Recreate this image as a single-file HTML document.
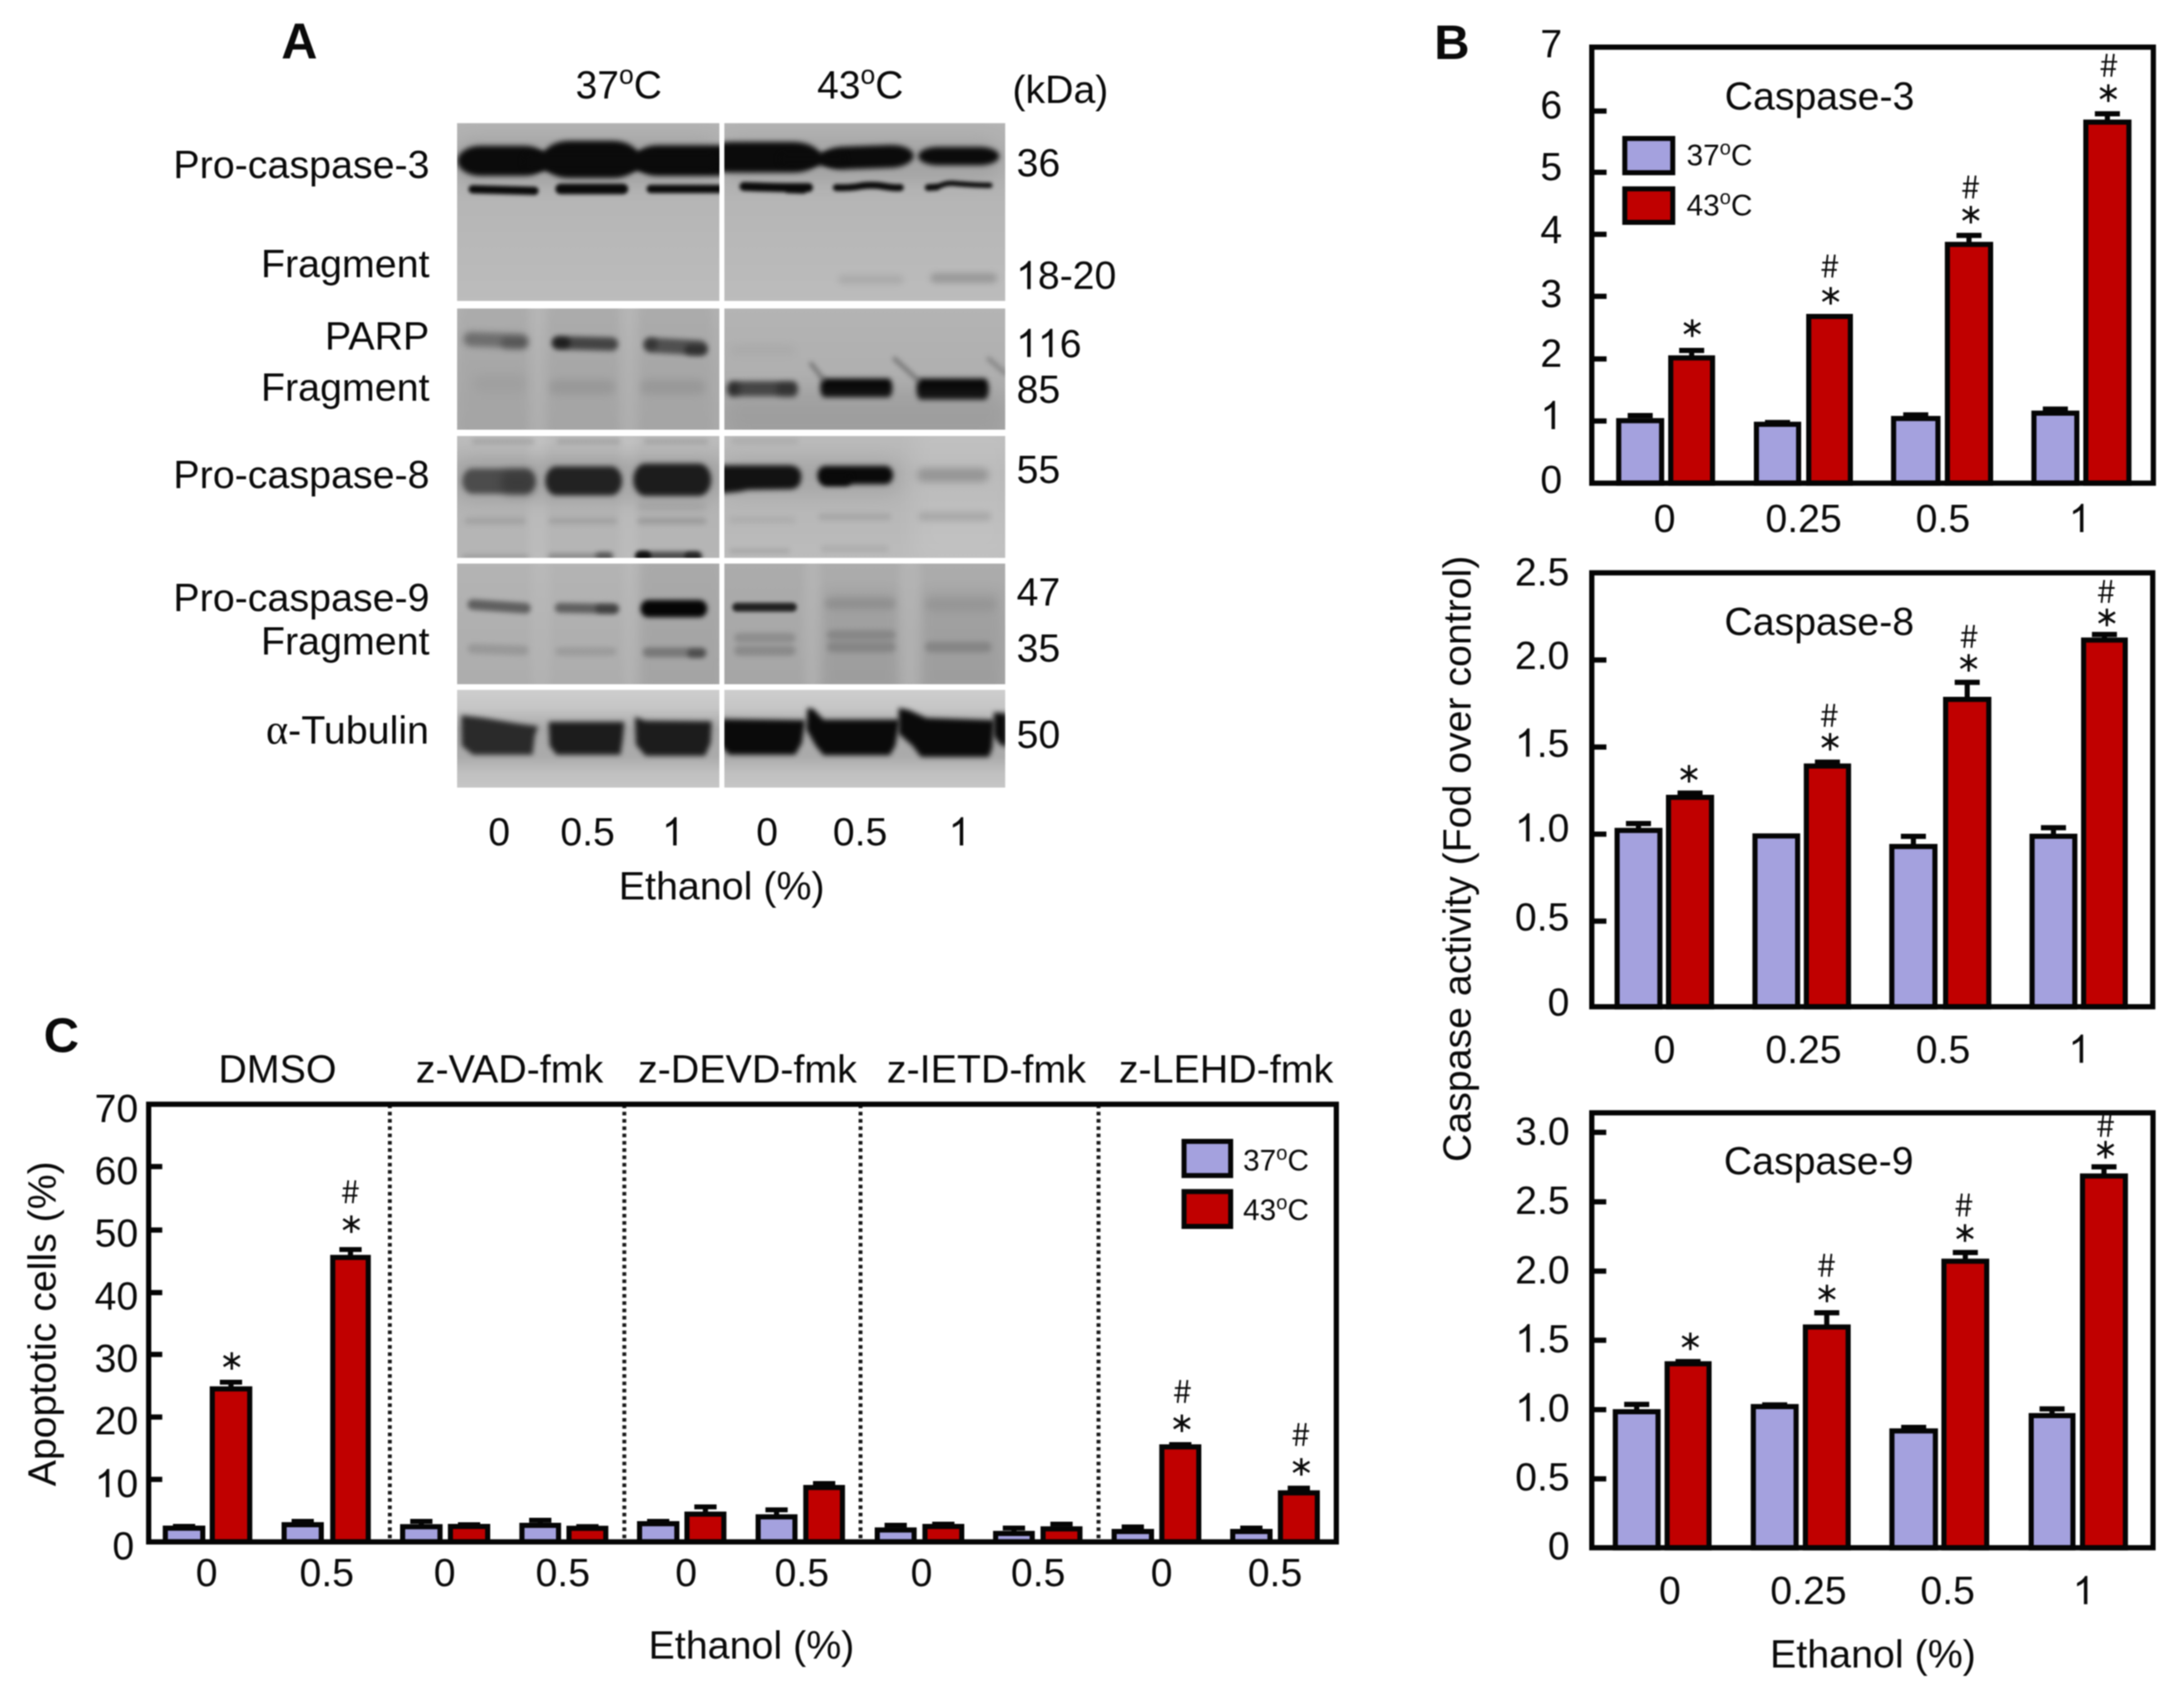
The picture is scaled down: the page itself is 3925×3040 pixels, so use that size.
<!DOCTYPE html>
<html><head><meta charset="utf-8"><title>Figure</title>
<style>html,body{margin:0;padding:0;background:#fff}svg{display:block;filter:blur(0.9px)}text{font-family:"Liberation Sans",sans-serif}</style>
</head><body>
<svg width="3925" height="3040" viewBox="0 0 3925 3040">
<rect width="3925" height="3040" fill="#fff"/>
<text x="505.5" y="104.8" font-size="90" text-anchor="start" font-weight="bold" font-family="Liberation Sans" fill="#0a0a0a" >A</text>
<text x="1112" y="177" font-size="70" text-anchor="middle" font-weight="normal" font-family="Liberation Sans" fill="#0a0a0a" >37<tspan font-size="47.6" dy="-25.6">o</tspan><tspan dy="25.6">C</tspan></text>
<text x="1546" y="177" font-size="70" text-anchor="middle" font-weight="normal" font-family="Liberation Sans" fill="#0a0a0a" >43<tspan font-size="47.6" dy="-25.6">o</tspan><tspan dy="25.6">C</tspan></text>
<text x="1819.5" y="185.3" font-size="70.5" text-anchor="start" font-weight="normal" font-family="Liberation Sans" fill="#0a0a0a" >(kDa)</text>
<text x="772" y="320.3" font-size="70.8" text-anchor="end" font-weight="normal" font-family="Liberation Sans" fill="#0a0a0a" >Pro-caspase-3</text>
<text x="772" y="497.6" font-size="70.8" text-anchor="end" font-weight="normal" font-family="Liberation Sans" fill="#0a0a0a" >Fragment</text>
<text x="771.5" y="627.5" font-size="70.8" text-anchor="end" font-weight="normal" font-family="Liberation Sans" fill="#0a0a0a" >PARP</text>
<text x="772" y="720" font-size="70.8" text-anchor="end" font-weight="normal" font-family="Liberation Sans" fill="#0a0a0a" >Fragment</text>
<text x="772" y="877.2" font-size="70.8" text-anchor="end" font-weight="normal" font-family="Liberation Sans" fill="#0a0a0a" >Pro-caspase-8</text>
<text x="772" y="1098.2" font-size="70.8" text-anchor="end" font-weight="normal" font-family="Liberation Sans" fill="#0a0a0a" >Pro-caspase-9</text>
<text x="772" y="1176" font-size="70.8" text-anchor="end" font-weight="normal" font-family="Liberation Sans" fill="#0a0a0a" >Fragment</text>
<text x="771" y="1335.5" font-size="70.8" text-anchor="end" font-weight="normal" font-family="Liberation Sans" fill="#0a0a0a" ><tspan font-family="Liberation Serif" font-size="76">α</tspan>-Tubulin</text>
<text x="1827" y="316.5" font-size="70.5" text-anchor="start" font-weight="normal" font-family="Liberation Sans" fill="#0a0a0a" >36</text>
<text x="1827" y="724.2" font-size="70.5" text-anchor="start" font-weight="normal" font-family="Liberation Sans" fill="#0a0a0a" >85</text>
<text x="1827" y="867.8" font-size="70.5" text-anchor="start" font-weight="normal" font-family="Liberation Sans" fill="#0a0a0a" >55</text>
<text x="1827" y="1088.2" font-size="70.5" text-anchor="start" font-weight="normal" font-family="Liberation Sans" fill="#0a0a0a" >47</text>
<text x="1827" y="1188.8" font-size="70.5" text-anchor="start" font-weight="normal" font-family="Liberation Sans" fill="#0a0a0a" >35</text>
<text x="1827" y="1343.7" font-size="70.5" text-anchor="start" font-weight="normal" font-family="Liberation Sans" fill="#0a0a0a" >50</text>
<text x="1826.00 1865.20 1904.40 1927.87 1967.07" y="519.4" font-size="70.5" font-family="Liberation Sans" fill="#0a0a0a"> 8-20</text>
<path transform="translate(1826.00,519.4) scale(0.03442,-0.03442)" d="M763 0H583V1147Q518 1085 412.5 1023T223 930V1104Q374 1175 487 1276T647 1472H763Z" fill="#0a0a0a"/>
<text x="1826.00 1865.20 1904.40" y="641.5" font-size="70.5" font-family="Liberation Sans" fill="#0a0a0a">  6</text>
<path transform="translate(1826.00,641.5) scale(0.03442,-0.03442)" d="M763 0H583V1147Q518 1085 412.5 1023T223 930V1104Q374 1175 487 1276T647 1472H763Z" fill="#0a0a0a"/>
<path transform="translate(1865.20,641.5) scale(0.03442,-0.03442)" d="M763 0H583V1147Q518 1085 412.5 1023T223 930V1104Q374 1175 487 1276T647 1472H763Z" fill="#0a0a0a"/>
<text x="897.2" y="1519" font-size="70.5" text-anchor="middle" font-weight="normal" font-family="Liberation Sans" fill="#0a0a0a" >0</text>
<text x="1056" y="1519" font-size="70.5" text-anchor="middle" font-weight="normal" font-family="Liberation Sans" fill="#0a0a0a" >0.5</text>
<path transform="translate(1189.70,1519) scale(0.03442,-0.03442)" d="M763 0H583V1147Q518 1085 412.5 1023T223 930V1104Q374 1175 487 1276T647 1472H763Z" fill="#0a0a0a"/>
<text x="1378.5" y="1519" font-size="70.5" text-anchor="middle" font-weight="normal" font-family="Liberation Sans" fill="#0a0a0a" >0</text>
<text x="1545.8" y="1519" font-size="70.5" text-anchor="middle" font-weight="normal" font-family="Liberation Sans" fill="#0a0a0a" >0.5</text>
<path transform="translate(1704.80,1519) scale(0.03442,-0.03442)" d="M763 0H583V1147Q518 1085 412.5 1023T223 930V1104Q374 1175 487 1276T647 1472H763Z" fill="#0a0a0a"/>
<text x="1297" y="1615.8" font-size="70.8" text-anchor="middle" font-weight="normal" font-family="Liberation Sans" fill="#0a0a0a" >Ethanol (%)</text>
<defs>
<filter id="b2" x="-30%" y="-100%" width="160%" height="300%" color-interpolation-filters="sRGB"><feGaussianBlur stdDeviation="2"/></filter>
<filter id="b3" x="-30%" y="-100%" width="160%" height="300%" color-interpolation-filters="sRGB"><feGaussianBlur stdDeviation="3"/></filter>
<filter id="b4" x="-30%" y="-100%" width="160%" height="300%" color-interpolation-filters="sRGB"><feGaussianBlur stdDeviation="4"/></filter>
<filter id="b5" x="-30%" y="-100%" width="160%" height="300%" color-interpolation-filters="sRGB"><feGaussianBlur stdDeviation="5"/></filter>
<filter id="b6" x="-30%" y="-100%" width="160%" height="300%" color-interpolation-filters="sRGB"><feGaussianBlur stdDeviation="6"/></filter>
<filter id="b7" x="-30%" y="-100%" width="160%" height="300%" color-interpolation-filters="sRGB"><feGaussianBlur stdDeviation="7"/></filter>
<filter id="b8" x="-30%" y="-100%" width="160%" height="300%" color-interpolation-filters="sRGB"><feGaussianBlur stdDeviation="8"/></filter>
<filter id="b10" x="-30%" y="-100%" width="160%" height="300%" color-interpolation-filters="sRGB"><feGaussianBlur stdDeviation="10"/></filter>
<filter id="b12" x="-30%" y="-100%" width="160%" height="300%" color-interpolation-filters="sRGB"><feGaussianBlur stdDeviation="12"/></filter>
<filter id="b14" x="-30%" y="-100%" width="160%" height="300%" color-interpolation-filters="sRGB"><feGaussianBlur stdDeviation="14"/></filter>
<filter id="b20" x="-30%" y="-100%" width="160%" height="300%" color-interpolation-filters="sRGB"><feGaussianBlur stdDeviation="20"/></filter>
<clipPath id="cpL0"><rect x="821.5" y="221.3" width="471.29999999999995" height="319.40000000000003"/></clipPath>
<clipPath id="cpR0"><rect x="1301.8" y="221.3" width="504.70000000000005" height="319.40000000000003"/></clipPath>
<clipPath id="cpL1"><rect x="821.5" y="554.3" width="471.29999999999995" height="217.70000000000005"/></clipPath>
<clipPath id="cpR1"><rect x="1301.8" y="554.3" width="504.70000000000005" height="217.70000000000005"/></clipPath>
<clipPath id="cpL2"><rect x="821.5" y="783.4" width="471.29999999999995" height="218.89999999999998"/></clipPath>
<clipPath id="cpR2"><rect x="1301.8" y="783.4" width="504.70000000000005" height="218.89999999999998"/></clipPath>
<clipPath id="cpL3"><rect x="821.5" y="1012.6" width="471.29999999999995" height="216.69999999999993"/></clipPath>
<clipPath id="cpR3"><rect x="1301.8" y="1012.6" width="504.70000000000005" height="216.69999999999993"/></clipPath>
<clipPath id="cpL4"><rect x="821.5" y="1239.5" width="471.29999999999995" height="175.5"/></clipPath>
<clipPath id="cpR4"><rect x="1301.8" y="1239.5" width="504.70000000000005" height="175.5"/></clipPath>
<filter id="u3" x="0" y="0" width="1" height="1" color-interpolation-filters="sRGB"><feGaussianBlur stdDeviation="3"/></filter>
<filter id="u4" x="0" y="0" width="1" height="1" color-interpolation-filters="sRGB"><feGaussianBlur stdDeviation="4"/></filter>
<filter id="u5" x="0" y="0" width="1" height="1" color-interpolation-filters="sRGB"><feGaussianBlur stdDeviation="5"/></filter>
</defs>
<defs><linearGradient id="g1" x1="0" y1="0" x2="0" y2="1"><stop offset="0" stop-color="#b3b3b3"/><stop offset="0.25" stop-color="#b0b0b0"/><stop offset="0.45" stop-color="#b6b6b6"/><stop offset="1" stop-color="#bcbcbc"/></linearGradient></defs>
<rect x="821.5" y="221.3" width="471.29999999999995" height="319.40000000000003" fill="url(#g1)"/>
<rect x="1301.8" y="221.3" width="504.70000000000005" height="319.40000000000003" fill="url(#g1)"/>
<g clip-path="url(#cpL0)"><rect x="815.0" y="250.0" width="485.0" height="80.0" rx="40.0" ry="40.0" fill="#888" opacity="0.35" filter="url(#b14)"/><rect x="822.0" y="262.0" width="162.0" height="54.0" rx="42.0" ry="27.0" fill="#0b0b0b" opacity="1" filter="url(#b5)"/><rect x="974.0" y="253.0" width="176.0" height="67.0" rx="48.0" ry="33.5" fill="#0b0b0b" opacity="1" filter="url(#b5)"/><rect x="1140.0" y="261.0" width="200.0" height="55.0" rx="42.0" ry="27.5" fill="#0b0b0b" opacity="1" filter="url(#b5)"/><rect x="940.0" y="274.0" width="353.0" height="32.0" rx="16.0" ry="16.0" fill="#0b0b0b" opacity="1" filter="url(#b5)"/><rect x="842.0" y="334.0" width="126.0" height="15.0" rx="7.5" ry="7.5" fill="#0a0a0a" opacity="1" filter="url(#b3)" transform="rotate(1.5 905.0 341.5)"/><rect x="998.0" y="330.0" width="131.0" height="19.0" rx="9.5" ry="9.5" fill="#0a0a0a" opacity="1" filter="url(#b3)"/><rect x="1162.0" y="332.0" width="148.0" height="15.0" rx="7.5" ry="7.5" fill="#0a0a0a" opacity="1" filter="url(#b3)"/></g>
<g clip-path="url(#cpR0)"><rect x="1296.0" y="250.0" width="504.0" height="75.0" rx="37.5" ry="37.5" fill="#888" opacity="0.3" filter="url(#b14)"/><rect x="1262.0" y="255.0" width="213.0" height="55.0" rx="50.0" ry="27.5" fill="#0b0b0b" opacity="1" filter="url(#b5)"/><rect x="1474.0" y="262.0" width="168.0" height="41.0" rx="42.0" ry="20.5" fill="#0b0b0b" opacity="1" filter="url(#b5)" transform="rotate(-2 1558.0 282.5)"/><rect x="1650.0" y="264.0" width="146.0" height="33.0" rx="36.0" ry="16.5" fill="#0b0b0b" opacity="1" filter="url(#b5)"/><rect x="1400.0" y="275.0" width="120.0" height="22.0" rx="11.0" ry="11.0" fill="#0b0b0b" opacity="1" filter="url(#b5)"/><rect x="1506.0" y="494.0" width="118.0" height="17.0" rx="8.5" ry="8.5" fill="#777" opacity="0.22" filter="url(#b6)"/><rect x="1672.0" y="491.0" width="120.0" height="17.0" rx="8.5" ry="8.5" fill="#666" opacity="0.4" filter="url(#b6)"/><g filter="url(#u3)"><rect x="1301.8" y="221.3" width="504.70000000000005" height="319.40000000000003" fill="none"/><path d="M1337 335 Q1390 337 1420 337 T1453 337" stroke="#0a0a0a" stroke-width="16" fill="none" stroke-linecap="round" opacity="1"/><path d="M1415 341 L1444 342" stroke="#0a0a0a" stroke-width="12" fill="none" stroke-linecap="round" opacity="1"/><path d="M1503 337 Q1530 338 1548 334 Q1570 331 1590 335 Q1608 338 1618 337" stroke="#0a0a0a" stroke-width="12.5" fill="none" stroke-linecap="round" opacity="1"/><path d="M1668 336 Q1682 337 1694 332 Q1705 328 1720 330 Q1755 333 1779 333" stroke="#0a0a0a" stroke-width="9.5" fill="none" stroke-linecap="round" opacity="1"/><path d="M1668 337 L1684 336" stroke="#0a0a0a" stroke-width="12" fill="none" stroke-linecap="round" opacity="1"/></g></g>
<defs><linearGradient id="g2L" x1="0" y1="0" x2="0" y2="1"><stop offset="0" stop-color="#b2b2b2"/><stop offset="0.5" stop-color="#adadad"/><stop offset="1" stop-color="#aaaaaa"/></linearGradient></defs>
<defs><linearGradient id="g2R" x1="0" y1="0" x2="0" y2="1"><stop offset="0" stop-color="#b4b4b4"/><stop offset="0.5" stop-color="#b0b0b0"/><stop offset="1" stop-color="#a6a6a6"/></linearGradient></defs>
<rect x="821.5" y="554.3" width="471.29999999999995" height="217.70000000000005" fill="url(#g2L)"/>
<rect x="1301.8" y="554.3" width="504.70000000000005" height="217.70000000000005" fill="url(#g2R)"/>
<g clip-path="url(#cpL1)"><rect x="826.0" y="540.0" width="124.0" height="250.0" rx="4.0" ry="125.0" fill="#888" opacity="0.14" filter="url(#b8)"/><rect x="984.0" y="540.0" width="128.0" height="250.0" rx="4.0" ry="125.0" fill="#888" opacity="0.14" filter="url(#b8)"/><rect x="1148.0" y="540.0" width="132.0" height="250.0" rx="4.0" ry="125.0" fill="#888" opacity="0.14" filter="url(#b8)"/><rect x="949.0" y="540.0" width="35.0" height="250.0" rx="4.0" ry="125.0" fill="#fff" opacity="0.05" filter="url(#b8)"/><rect x="1113.0" y="540.0" width="35.0" height="250.0" rx="4.0" ry="125.0" fill="#fff" opacity="0.05" filter="url(#b8)"/><rect x="833.0" y="598.0" width="116.0" height="26.0" rx="13.0" ry="13.0" fill="#555" opacity="0.7" filter="url(#b6)" transform="rotate(2 891.0 611.0)"/><rect x="900.0" y="606.0" width="49.0" height="21.0" rx="10.5" ry="10.5" fill="#333" opacity="0.4" filter="url(#b6)"/><rect x="992.0" y="605.0" width="119.0" height="24.0" rx="12.0" ry="12.0" fill="#333" opacity="0.85" filter="url(#b5)" transform="rotate(1.5 1051.5 617.0)"/><rect x="993.0" y="606.0" width="32.0" height="20.0" rx="10.0" ry="10.0" fill="#000" opacity="0.55" filter="url(#b5)"/><rect x="1157.0" y="609.0" width="114.0" height="27.0" rx="13.5" ry="13.5" fill="#3a3a3a" opacity="0.8" filter="url(#b5)" transform="rotate(3 1214.0 622.5)"/><rect x="1230.0" y="619.0" width="42.0" height="20.0" rx="10.0" ry="10.0" fill="#111" opacity="0.5" filter="url(#b5)"/><rect x="1157.0" y="607.0" width="25.0" height="22.0" rx="11.0" ry="11.0" fill="#111" opacity="0.4" filter="url(#b5)"/><rect x="850.0" y="672.0" width="98.0" height="34.0" rx="17.0" ry="17.0" fill="#777" opacity="0.12" filter="url(#b8)"/><rect x="986.0" y="682.0" width="120.0" height="27.0" rx="13.5" ry="13.5" fill="#777" opacity="0.28" filter="url(#b7)"/><rect x="1150.0" y="682.0" width="118.0" height="27.0" rx="13.5" ry="13.5" fill="#777" opacity="0.28" filter="url(#b7)"/></g>
<g clip-path="url(#cpR1)"><rect x="1308.0" y="685.0" width="125.0" height="27.0" rx="8.0" ry="13.5" fill="#3a3a3a" opacity="0.92" filter="url(#b5)"/><rect x="1306.0" y="687.0" width="24.0" height="25.0" rx="8.0" ry="12.5" fill="#000" opacity="0.35" filter="url(#b6)"/><rect x="1395.0" y="688.0" width="39.0" height="25.0" rx="8.0" ry="12.5" fill="#000" opacity="0.3" filter="url(#b6)"/><rect x="1474.0" y="680.0" width="130.0" height="34.0" rx="8.0" ry="17.0" fill="#050505" opacity="1" filter="url(#b5)"/><rect x="1647.0" y="680.0" width="130.0" height="38.0" rx="8.0" ry="19.0" fill="#050505" opacity="1" filter="url(#b5)"/><rect x="1312.0" y="620.0" width="118.0" height="18.0" rx="9.0" ry="9.0" fill="#888" opacity="0.15" filter="url(#b7)"/><rect x="1300.0" y="700.0" width="510.0" height="80.0" rx="40.0" ry="40.0" fill="#777" opacity="0.18" filter="url(#b14)"/><g filter="url(#u4)"><rect x="1301.8" y="554.3" width="504.70000000000005" height="217.70000000000005" fill="none"/><path d="M1458 654L1480 682" stroke="#555" stroke-width="8" fill="none" stroke-linecap="round" opacity="0.6"/><path d="M1608 645L1651 684" stroke="#555" stroke-width="8" fill="none" stroke-linecap="round" opacity="0.6"/><path d="M1777 645L1806 670" stroke="#666" stroke-width="9" fill="none" stroke-linecap="round" opacity="0.5"/></g></g>
<defs><linearGradient id="g3L" x1="0" y1="0" x2="0" y2="1"><stop offset="0" stop-color="#bdbdbd"/><stop offset="0.25" stop-color="#b0b0b0"/><stop offset="0.6" stop-color="#b4b4b4"/><stop offset="1" stop-color="#b6b6b6"/></linearGradient></defs>
<defs><linearGradient id="g3R" x1="0" y1="0" x2="0" y2="1"><stop offset="0" stop-color="#bbbbbb"/><stop offset="0.3" stop-color="#b4b4b4"/><stop offset="1" stop-color="#bcbcbc"/></linearGradient></defs>
<rect x="821.5" y="783.4" width="471.29999999999995" height="218.89999999999998" fill="url(#g3L)"/>
<rect x="1301.8" y="783.4" width="504.70000000000005" height="218.89999999999998" fill="url(#g3R)"/>
<g clip-path="url(#cpL2)"><rect x="949.0" y="770.0" width="35.0" height="240.0" rx="4.0" ry="120.0" fill="#fff" opacity="0.09" filter="url(#b8)"/><rect x="1113.0" y="770.0" width="33.0" height="240.0" rx="4.0" ry="120.0" fill="#fff" opacity="0.09" filter="url(#b8)"/><rect x="815.0" y="825.0" width="485.0" height="75.0" rx="37.5" ry="37.5" fill="#777" opacity="0.25" filter="url(#b14)"/><rect x="831.0" y="842.0" width="131.0" height="45.0" rx="18.0" ry="22.5" fill="#484848" opacity="0.95" filter="url(#b5)"/><rect x="900.0" y="846.0" width="62.0" height="42.0" rx="14.0" ry="21.0" fill="#2c2c2c" opacity="0.5" filter="url(#b8)"/><rect x="980.0" y="838.0" width="138.0" height="52.0" rx="20.0" ry="26.0" fill="#222" opacity="1" filter="url(#b5)"/><rect x="1138.0" y="833.0" width="140.0" height="58.0" rx="22.0" ry="29.0" fill="#1c1c1c" opacity="1" filter="url(#b5)"/><rect x="848.0" y="788.0" width="113.0" height="10.0" rx="5.0" ry="5.0" fill="#777" opacity="0.3" filter="url(#b4)"/><rect x="1000.0" y="788.0" width="115.0" height="10.0" rx="5.0" ry="5.0" fill="#777" opacity="0.3" filter="url(#b4)"/><rect x="1157.0" y="788.0" width="116.0" height="10.0" rx="5.0" ry="5.0" fill="#777" opacity="0.3" filter="url(#b4)"/><rect x="835.0" y="930.0" width="110.0" height="12.0" rx="6.0" ry="6.0" fill="#666" opacity="0.22" filter="url(#b5)"/><rect x="985.0" y="930.0" width="125.0" height="12.0" rx="6.0" ry="6.0" fill="#666" opacity="0.22" filter="url(#b5)"/><rect x="1145.0" y="930.0" width="125.0" height="12.0" rx="6.0" ry="6.0" fill="#666" opacity="0.3" filter="url(#b5)"/><rect x="1145.0" y="903.0" width="125.0" height="15.0" rx="7.5" ry="7.5" fill="#777" opacity="0.2" filter="url(#b6)"/><rect x="985.0" y="994.0" width="115.0" height="12.0" rx="6.0" ry="6.0" fill="#666" opacity="0.5" filter="url(#b4)"/><rect x="1070.0" y="992.0" width="32.0" height="14.0" rx="7.0" ry="7.0" fill="#333" opacity="0.6" filter="url(#b4)"/><rect x="1142.0" y="991.0" width="120.0" height="17.0" rx="8.5" ry="8.5" fill="#333" opacity="0.8" filter="url(#b4)"/><rect x="1142.0" y="990.0" width="28.0" height="18.0" rx="9.0" ry="9.0" fill="#000" opacity="0.8" filter="url(#b3)"/><rect x="1230.0" y="991.0" width="30.0" height="17.0" rx="8.5" ry="8.5" fill="#000" opacity="0.5" filter="url(#b3)"/><rect x="830.0" y="996.0" width="120.0" height="10.0" rx="5.0" ry="5.0" fill="#777" opacity="0.35" filter="url(#b4)"/></g>
<g clip-path="url(#cpR2)"><rect x="1640.0" y="770.0" width="180.0" height="240.0" rx="4.0" ry="120.0" fill="#fff" opacity="0.1" filter="url(#b20)"/><rect x="1296.0" y="825.0" width="324.0" height="65.0" rx="32.5" ry="32.5" fill="#777" opacity="0.2" filter="url(#b14)"/><path d="M1290 836 L1420 836 Q1440 838 1440 856 Q1440 878 1420 879 L1345 880 Q1320 886 1290 886 Z" fill="#121212" opacity="1" filter="url(#b5)"/><rect x="1469.0" y="837.0" width="136.0" height="33.0" rx="14.0" ry="16.5" fill="#0a0a0a" opacity="1" filter="url(#b5)"/><rect x="1475.0" y="850.0" width="55.0" height="23.0" rx="10.0" ry="11.5" fill="#0a0a0a" opacity="1" filter="url(#b5)"/><rect x="1648.0" y="841.0" width="129.0" height="25.0" rx="12.5" ry="12.5" fill="#777" opacity="0.55" filter="url(#b7)"/><rect x="1314.0" y="788.0" width="121.0" height="9.0" rx="4.5" ry="4.5" fill="#777" opacity="0.2" filter="url(#b4)"/><rect x="1310.0" y="928.0" width="120.0" height="12.0" rx="6.0" ry="6.0" fill="#777" opacity="0.15" filter="url(#b5)"/><rect x="1470.0" y="922.0" width="132.0" height="13.0" rx="6.5" ry="6.5" fill="#777" opacity="0.25" filter="url(#b5)"/><rect x="1650.0" y="920.0" width="132.0" height="16.0" rx="8.0" ry="8.0" fill="#666" opacity="0.25" filter="url(#b6)"/><rect x="1310.0" y="985.0" width="110.0" height="10.0" rx="5.0" ry="5.0" fill="#777" opacity="0.25" filter="url(#b4)"/><rect x="1475.0" y="980.0" width="122.0" height="12.0" rx="6.0" ry="6.0" fill="#777" opacity="0.2" filter="url(#b5)"/></g>
<defs><linearGradient id="g4L" x1="0" y1="0" x2="0" y2="1"><stop offset="0" stop-color="#b4b4b4"/><stop offset="0.5" stop-color="#b0b0b0"/><stop offset="1" stop-color="#adadad"/></linearGradient></defs>
<defs><linearGradient id="g4R" x1="0" y1="0" x2="0" y2="1"><stop offset="0" stop-color="#acacac"/><stop offset="0.5" stop-color="#a9a9a9"/><stop offset="1" stop-color="#a6a6a6"/></linearGradient></defs>
<rect x="821.5" y="1012.6" width="471.29999999999995" height="216.69999999999993" fill="url(#g4L)"/>
<rect x="1301.8" y="1012.6" width="504.70000000000005" height="216.69999999999993" fill="url(#g4R)"/>
<g clip-path="url(#cpL3)"><rect x="1150.0" y="1000.0" width="150.0" height="240.0" rx="4.0" ry="120.0" fill="#777" opacity="0.16" filter="url(#b10)"/><rect x="953.0" y="1000.0" width="37.0" height="240.0" rx="4.0" ry="120.0" fill="#fff" opacity="0.07" filter="url(#b8)"/><rect x="1118.0" y="1000.0" width="30.0" height="240.0" rx="4.0" ry="120.0" fill="#fff" opacity="0.07" filter="url(#b8)"/><rect x="840.0" y="1080.0" width="114.0" height="19.0" rx="9.5" ry="9.5" fill="#444" opacity="0.75" filter="url(#b4)" transform="rotate(4 897.0 1089.5)"/><rect x="997.0" y="1084.0" width="116.0" height="18.0" rx="9.0" ry="9.0" fill="#444" opacity="0.75" filter="url(#b4)" transform="rotate(1 1055.0 1093.0)"/><rect x="1070.0" y="1086.0" width="40.0" height="16.0" rx="8.0" ry="8.0" fill="#222" opacity="0.5" filter="url(#b4)"/><rect x="1151.0" y="1078.0" width="120.0" height="31.0" rx="14.0" ry="15.5" fill="#050505" opacity="1" filter="url(#b4)"/><rect x="840.0" y="1158.0" width="110.0" height="18.0" rx="9.0" ry="9.0" fill="#666" opacity="0.3" filter="url(#b5)" transform="rotate(2 895.0 1167.0)"/><rect x="998.0" y="1163.0" width="110.0" height="15.0" rx="7.5" ry="7.5" fill="#666" opacity="0.26" filter="url(#b5)"/><rect x="1155.0" y="1163.0" width="115.0" height="18.0" rx="9.0" ry="9.0" fill="#555" opacity="0.55" filter="url(#b4)"/><rect x="1235.0" y="1166.0" width="33.0" height="16.0" rx="8.0" ry="8.0" fill="#222" opacity="0.5" filter="url(#b4)"/></g>
<g clip-path="url(#cpR3)"><rect x="1444.0" y="1000.0" width="32.0" height="240.0" rx="4.0" ry="120.0" fill="#fff" opacity="0.1" filter="url(#b8)"/><rect x="1615.0" y="1000.0" width="41.0" height="240.0" rx="4.0" ry="120.0" fill="#fff" opacity="0.1" filter="url(#b8)"/><rect x="1480.0" y="1060.0" width="132.0" height="180.0" rx="4.0" ry="90.0" fill="#666" opacity="0.12" filter="url(#b10)"/><rect x="1658.0" y="1060.0" width="142.0" height="180.0" rx="4.0" ry="90.0" fill="#666" opacity="0.12" filter="url(#b10)"/><rect x="1316.0" y="1083.0" width="116.0" height="16.0" rx="8.0" ry="8.0" fill="#1a1a1a" opacity="0.95" filter="url(#b3)"/><rect x="1482.0" y="1074.0" width="128.0" height="21.0" rx="10.5" ry="10.5" fill="#666" opacity="0.28" filter="url(#b6)"/><rect x="1662.0" y="1074.0" width="128.0" height="24.0" rx="12.0" ry="12.0" fill="#666" opacity="0.18" filter="url(#b7)"/><rect x="1319.0" y="1137.0" width="111.0" height="18.0" rx="9.0" ry="9.0" fill="#666" opacity="0.4" filter="url(#b5)"/><rect x="1319.0" y="1160.0" width="111.0" height="18.0" rx="9.0" ry="9.0" fill="#666" opacity="0.45" filter="url(#b5)"/><rect x="1486.0" y="1132.0" width="124.0" height="18.0" rx="9.0" ry="9.0" fill="#666" opacity="0.42" filter="url(#b5)"/><rect x="1486.0" y="1153.0" width="124.0" height="19.0" rx="9.5" ry="9.5" fill="#666" opacity="0.45" filter="url(#b5)"/><rect x="1662.0" y="1153.0" width="120.0" height="19.0" rx="9.5" ry="9.5" fill="#666" opacity="0.45" filter="url(#b5)"/></g>
<defs><linearGradient id="g5" x1="0" y1="0" x2="0" y2="1"><stop offset="0" stop-color="#cecece"/><stop offset="0.18" stop-color="#c6c6c6"/><stop offset="0.4" stop-color="#a8a8a8"/><stop offset="0.68" stop-color="#ababab"/><stop offset="0.85" stop-color="#c0c0c0"/><stop offset="1" stop-color="#c6c6c6"/></linearGradient></defs>
<rect x="821.5" y="1239.5" width="471.29999999999995" height="175.5" fill="url(#g5)"/>
<rect x="1301.8" y="1239.5" width="504.70000000000005" height="175.5" fill="url(#g5)"/>
<g clip-path="url(#cpL4)"><path d="M829 1285 L870 1290 L930 1300 L967 1305 L961 1322 L959 1340 L957 1356 L850 1356 L830 1340 Z" fill="#2a2a2a" opacity="1" filter="url(#b5)"/><path d="M986 1297 L1122 1297 L1119 1330 L1115 1356 L1000 1356 L988 1340 Z" fill="#1c1c1c" opacity="1" filter="url(#b5)"/><path d="M1141 1288 L1160 1295 L1279 1296 L1277 1335 L1267 1358 L1160 1358 L1143 1338 Z" fill="#1c1c1c" opacity="1" filter="url(#b5)"/></g>
<g clip-path="url(#cpR4)"><path d="M1296 1292 L1447 1294 L1441 1335 L1429 1356 L1310 1356 L1296 1340 Z" fill="#0a0a0a" opacity="1" filter="url(#b5)"/><path d="M1451 1272 L1462 1274 L1480 1293 L1617 1293 L1609 1340 L1599 1357 L1480 1357 L1466 1340 L1449 1310 Z" fill="#0a0a0a" opacity="1" filter="url(#b5)"/><path d="M1615 1272 L1634 1276 L1665 1290 L1787 1294 L1783 1345 L1777 1360 L1655 1360 L1640 1340 L1615 1318 Z" fill="#0a0a0a" opacity="1" filter="url(#b5)"/><path d="M1786 1280 L1810 1282 L1810 1342 L1798 1338 L1786 1322 Z" fill="#0a0a0a" opacity="1" filter="url(#b5)"/></g>
<rect x="2857" y="194.8" width="30.3" height="9.4" fill="#050505"/>
<rect x="2857" y="304.9" width="30.3" height="9.4" fill="#050505"/>
<rect x="2857" y="416.3" width="30.3" height="9.4" fill="#050505"/>
<rect x="2857" y="527.7" width="30.3" height="9.4" fill="#050505"/>
<rect x="2857" y="640.2" width="30.3" height="9.4" fill="#050505"/>
<rect x="2857" y="751.7" width="30.3" height="9.4" fill="#050505"/>
<rect x="2925.2" y="742.0" width="45" height="9.3" fill="#050505"/>
<rect x="2909.1" y="755.8" width="77.1" height="112.3" fill="#a4a1de" stroke="#050505" stroke-width="9.2"/>
<rect x="3017.7" y="625.0" width="45" height="9.3" fill="#050505"/>
<rect x="3035.6" y="626.0" width="9.2" height="13.4" fill="#050505"/>
<rect x="3002.6" y="643.0" width="75.1" height="225.1" fill="#c00000" stroke="#050505" stroke-width="9.2"/>
<rect x="3172.0" y="754.5" width="45" height="9.3" fill="#050505"/>
<rect x="3156.6" y="762.3" width="75.8" height="105.8" fill="#a4a1de" stroke="#050505" stroke-width="9.2"/>
<rect x="3250.6" y="568.6" width="74.8" height="299.5" fill="#c00000" stroke="#050505" stroke-width="9.2"/>
<rect x="3420.4" y="740.8" width="45" height="9.3" fill="#050505"/>
<rect x="3403.1" y="751.9" width="79.7" height="116.2" fill="#a4a1de" stroke="#050505" stroke-width="9.2"/>
<rect x="3516.1" y="418.3" width="45" height="9.3" fill="#050505"/>
<rect x="3534.0" y="419.3" width="9.2" height="16.2" fill="#050505"/>
<rect x="3499.8" y="439.1" width="77.6" height="429.0" fill="#c00000" stroke="#050505" stroke-width="9.2"/>
<rect x="3671.3" y="730.4" width="45" height="9.3" fill="#050505"/>
<rect x="3655.3" y="742.3" width="77.1" height="125.8" fill="#a4a1de" stroke="#050505" stroke-width="9.2"/>
<rect x="3764.8" y="199.8" width="45" height="9.3" fill="#050505"/>
<rect x="3782.7" y="200.8" width="9.2" height="15.0" fill="#050505"/>
<rect x="3748.6" y="219.4" width="77.4" height="648.7" fill="#c00000" stroke="#050505" stroke-width="9.2"/>
<rect x="2860.7" y="84.7" width="1009.1999999999999" height="783.4" fill="none" stroke="#050505" stroke-width="9.4"/>
<rect x="2857" y="1181.1" width="30.0" height="9.4" fill="#050505"/>
<rect x="2857" y="1337.5" width="30.0" height="9.4" fill="#050505"/>
<rect x="2857" y="1494.0" width="30.0" height="9.4" fill="#050505"/>
<rect x="2857" y="1650.3" width="30.0" height="9.4" fill="#050505"/>
<rect x="2922.1" y="1475.0" width="45" height="9.3" fill="#050505"/>
<rect x="2940.0" y="1476.0" width="9.2" height="12.4" fill="#050505"/>
<rect x="2906.2" y="1492.0" width="76.9" height="316.8" fill="#a4a1de" stroke="#050505" stroke-width="9.2"/>
<rect x="3014.8" y="1420.3" width="45" height="9.3" fill="#050505"/>
<rect x="2998.6" y="1432.6" width="77.3" height="376.2" fill="#c00000" stroke="#050505" stroke-width="9.2"/>
<rect x="3154.0" y="1501.9" width="76.6" height="306.9" fill="#a4a1de" stroke="#050505" stroke-width="9.2"/>
<rect x="3261.7" y="1364.7" width="45" height="9.3" fill="#050505"/>
<rect x="3246.3" y="1376.3" width="75.8" height="432.5" fill="#c00000" stroke="#050505" stroke-width="9.2"/>
<rect x="3416.2" y="1498.0" width="45" height="9.3" fill="#050505"/>
<rect x="3434.1" y="1499.0" width="9.2" height="18.3" fill="#050505"/>
<rect x="3399.9" y="1520.9" width="77.5" height="287.9" fill="#a4a1de" stroke="#050505" stroke-width="9.2"/>
<rect x="3512.9" y="1221.3" width="45" height="9.3" fill="#050505"/>
<rect x="3530.8" y="1222.3" width="9.2" height="30.7" fill="#050505"/>
<rect x="3496.6" y="1256.6" width="77.6" height="552.2" fill="#c00000" stroke="#050505" stroke-width="9.2"/>
<rect x="3667.9" y="1482.5" width="45" height="9.3" fill="#050505"/>
<rect x="3685.8" y="1483.5" width="9.2" height="15.4" fill="#050505"/>
<rect x="3652.0" y="1502.5" width="76.8" height="306.3" fill="#a4a1de" stroke="#050505" stroke-width="9.2"/>
<rect x="3759.5" y="1135.3" width="45" height="9.3" fill="#050505"/>
<rect x="3777.4" y="1136.3" width="9.2" height="10.1" fill="#050505"/>
<rect x="3744.6" y="1150.0" width="74.8" height="658.8" fill="#c00000" stroke="#050505" stroke-width="9.2"/>
<rect x="2860.7" y="1029.2" width="1008.1" height="779.6" fill="none" stroke="#050505" stroke-width="9.4"/>
<rect x="2857" y="2029.8" width="29.7" height="9.4" fill="#050505"/>
<rect x="2857" y="2154.6" width="29.7" height="9.4" fill="#050505"/>
<rect x="2857" y="2279.1" width="29.7" height="9.4" fill="#050505"/>
<rect x="2857" y="2403.3" width="29.7" height="9.4" fill="#050505"/>
<rect x="2857" y="2528.0" width="29.7" height="9.4" fill="#050505"/>
<rect x="2857" y="2652.3" width="29.7" height="9.4" fill="#050505"/>
<rect x="2918.9" y="2518.6" width="45" height="9.3" fill="#050505"/>
<rect x="2936.8" y="2519.6" width="9.2" height="13.2" fill="#050505"/>
<rect x="2903.0" y="2536.4" width="76.8" height="244.4" fill="#a4a1de" stroke="#050505" stroke-width="9.2"/>
<rect x="3011.2" y="2441.7" width="45" height="9.3" fill="#050505"/>
<rect x="2996.1" y="2450.3" width="75.3" height="330.5" fill="#c00000" stroke="#050505" stroke-width="9.2"/>
<rect x="3166.9" y="2519.5" width="45" height="9.3" fill="#050505"/>
<rect x="3151.0" y="2527.2" width="76.9" height="253.6" fill="#a4a1de" stroke="#050505" stroke-width="9.2"/>
<rect x="3260.5" y="2354.0" width="45" height="9.3" fill="#050505"/>
<rect x="3278.4" y="2355.0" width="9.2" height="25.6" fill="#050505"/>
<rect x="3244.6" y="2384.2" width="76.8" height="396.6" fill="#c00000" stroke="#050505" stroke-width="9.2"/>
<rect x="3416.7" y="2560.0" width="45" height="9.3" fill="#050505"/>
<rect x="3400.1" y="2570.9" width="78.1" height="209.9" fill="#a4a1de" stroke="#050505" stroke-width="9.2"/>
<rect x="3509.5" y="2245.7" width="45" height="9.3" fill="#050505"/>
<rect x="3527.4" y="2246.7" width="9.2" height="15.7" fill="#050505"/>
<rect x="3493.6" y="2266.0" width="76.8" height="514.8" fill="#c00000" stroke="#050505" stroke-width="9.2"/>
<rect x="3665.4" y="2526.7" width="45" height="9.3" fill="#050505"/>
<rect x="3683.3" y="2527.7" width="9.2" height="12.1" fill="#050505"/>
<rect x="3650.4" y="2543.4" width="75.0" height="237.4" fill="#a4a1de" stroke="#050505" stroke-width="9.2"/>
<rect x="3758.7" y="2091.8" width="45" height="9.3" fill="#050505"/>
<rect x="3776.6" y="2092.8" width="9.2" height="16.5" fill="#050505"/>
<rect x="3742.6" y="2112.9" width="77.1" height="667.9" fill="#c00000" stroke="#050505" stroke-width="9.2"/>
<rect x="2860.7" y="1999.4" width="1008.6" height="781.4" fill="none" stroke="#050505" stroke-width="9.4"/>
<line x1="700.6" y1="1984.4" x2="700.6" y2="2768" stroke="#1a1a1a" stroke-width="7" stroke-dasharray="6.5 6.6"/>
<line x1="1122" y1="1984.4" x2="1122" y2="2768" stroke="#1a1a1a" stroke-width="7" stroke-dasharray="6.5 6.6"/>
<line x1="1546.5" y1="1984.4" x2="1546.5" y2="2768" stroke="#1a1a1a" stroke-width="7" stroke-dasharray="6.5 6.6"/>
<line x1="1974.2" y1="1984.4" x2="1974.2" y2="2768" stroke="#1a1a1a" stroke-width="7" stroke-dasharray="6.5 6.6"/>
<rect x="263.5" y="2091.3" width="28.1" height="9.4" fill="#050505"/>
<rect x="263.5" y="2205.3" width="28.1" height="9.4" fill="#050505"/>
<rect x="263.5" y="2317.7" width="28.1" height="9.4" fill="#050505"/>
<rect x="263.5" y="2428.8" width="28.1" height="9.4" fill="#050505"/>
<rect x="263.5" y="2541.3" width="28.1" height="9.4" fill="#050505"/>
<rect x="263.5" y="2653.3" width="28.1" height="9.4" fill="#050505"/>
<rect x="310.8" y="2738.0" width="40" height="8.8" fill="#050505"/>
<rect x="297.1" y="2745.6" width="67.3" height="24.7" fill="#a4a1de" stroke="#050505" stroke-width="9.2"/>
<rect x="395.1" y="2479.0" width="40" height="8.8" fill="#050505"/>
<rect x="410.5" y="2480.0" width="9.2" height="11.8" fill="#050505"/>
<rect x="381.5" y="2495.4" width="67.3" height="274.9" fill="#c00000" stroke="#050505" stroke-width="9.2"/>
<rect x="524.0" y="2729.0" width="40" height="8.8" fill="#050505"/>
<rect x="510.6" y="2739.4" width="66.8" height="30.9" fill="#a4a1de" stroke="#050505" stroke-width="9.2"/>
<rect x="609.9" y="2240.6" width="40" height="8.8" fill="#050505"/>
<rect x="625.3" y="2241.6" width="9.2" height="14.0" fill="#050505"/>
<rect x="598.0" y="2259.2" width="63.8" height="511.1" fill="#c00000" stroke="#050505" stroke-width="9.2"/>
<rect x="737.2" y="2729.0" width="40" height="8.8" fill="#050505"/>
<rect x="752.6" y="2730.0" width="9.2" height="9.4" fill="#050505"/>
<rect x="723.6" y="2743.0" width="67.2" height="27.3" fill="#a4a1de" stroke="#050505" stroke-width="9.2"/>
<rect x="823.0" y="2735.0" width="40" height="8.8" fill="#050505"/>
<rect x="809.5" y="2742.6" width="66.9" height="27.7" fill="#c00000" stroke="#050505" stroke-width="9.2"/>
<rect x="950.9" y="2727.0" width="40" height="8.8" fill="#050505"/>
<rect x="966.3" y="2728.0" width="9.2" height="9.0" fill="#050505"/>
<rect x="938.0" y="2740.6" width="65.8" height="29.7" fill="#a4a1de" stroke="#050505" stroke-width="9.2"/>
<rect x="1035.7" y="2738.4" width="40" height="8.8" fill="#050505"/>
<rect x="1022.6" y="2745.9" width="66.1" height="24.4" fill="#c00000" stroke="#050505" stroke-width="9.2"/>
<rect x="1162.9" y="2729.0" width="40" height="8.8" fill="#050505"/>
<rect x="1149.4" y="2737.6" width="67.0" height="32.7" fill="#a4a1de" stroke="#050505" stroke-width="9.2"/>
<rect x="1247.8" y="2703.0" width="40" height="8.8" fill="#050505"/>
<rect x="1263.2" y="2704.0" width="9.2" height="12.8" fill="#050505"/>
<rect x="1234.6" y="2720.4" width="66.3" height="49.9" fill="#c00000" stroke="#050505" stroke-width="9.2"/>
<rect x="1375.6" y="2708.3" width="40" height="8.8" fill="#050505"/>
<rect x="1391.0" y="2709.3" width="9.2" height="12.4" fill="#050505"/>
<rect x="1362.5" y="2725.3" width="66.2" height="45.0" fill="#a4a1de" stroke="#050505" stroke-width="9.2"/>
<rect x="1461.1" y="2661.0" width="40" height="8.8" fill="#050505"/>
<rect x="1448.2" y="2672.6" width="65.8" height="97.7" fill="#c00000" stroke="#050505" stroke-width="9.2"/>
<rect x="1589.7" y="2736.0" width="40" height="8.8" fill="#050505"/>
<rect x="1576.6" y="2748.9" width="66.2" height="21.4" fill="#a4a1de" stroke="#050505" stroke-width="9.2"/>
<rect x="1675.3" y="2734.0" width="40" height="8.8" fill="#050505"/>
<rect x="1662.3" y="2742.6" width="66.1" height="27.7" fill="#c00000" stroke="#050505" stroke-width="9.2"/>
<rect x="1802.2" y="2741.0" width="40" height="8.8" fill="#050505"/>
<rect x="1817.6" y="2742.0" width="9.2" height="9.5" fill="#050505"/>
<rect x="1789.3" y="2755.1" width="65.8" height="15.2" fill="#a4a1de" stroke="#050505" stroke-width="9.2"/>
<rect x="1887.7" y="2734.0" width="40" height="8.8" fill="#050505"/>
<rect x="1874.6" y="2746.9" width="66.2" height="23.4" fill="#c00000" stroke="#050505" stroke-width="9.2"/>
<rect x="2015.8" y="2739.0" width="40" height="8.8" fill="#050505"/>
<rect x="2002.3" y="2751.6" width="67.1" height="18.7" fill="#a4a1de" stroke="#050505" stroke-width="9.2"/>
<rect x="2101.2" y="2591.0" width="40" height="8.8" fill="#050505"/>
<rect x="2088.0" y="2599.6" width="66.4" height="170.7" fill="#c00000" stroke="#050505" stroke-width="9.2"/>
<rect x="2228.9" y="2741.0" width="40" height="8.8" fill="#050505"/>
<rect x="2215.4" y="2751.6" width="67.0" height="18.7" fill="#a4a1de" stroke="#050505" stroke-width="9.2"/>
<rect x="2314.2" y="2669.3" width="40" height="8.8" fill="#050505"/>
<rect x="2301.1" y="2682.2" width="66.3" height="88.1" fill="#c00000" stroke="#050505" stroke-width="9.2"/>
<rect x="267.2" y="1984.0" width="2134.4" height="786.3000000000001" fill="none" stroke="#050505" stroke-width="9.4"/>
<path d="M3041.2 573.8V605.4M3026.6 580.6L3055.8 598.6M3026.6 598.6L3055.8 580.6" stroke="#0a0a0a" stroke-width="4.3" fill="none"/>
<path d="M3290.0 515.7V547.3M3275.4 522.5L3304.6 540.5M3275.4 540.5L3304.6 522.5" stroke="#0a0a0a" stroke-width="4.3" fill="none"/>
<path d="M3541.9 369.9V401.5M3527.3 376.7L3556.5 394.7M3527.3 394.7L3556.5 376.7" stroke="#0a0a0a" stroke-width="4.3" fill="none"/>
<path d="M3789.0 151.6V183.2M3774.4 158.4L3803.6 176.4M3774.4 176.4L3803.6 158.4" stroke="#0a0a0a" stroke-width="4.3" fill="none"/>
<path d="M3035.4 1374.5V1406.1M3020.8 1381.3L3050.0 1399.3M3020.8 1399.3L3050.0 1381.3" stroke="#0a0a0a" stroke-width="4.3" fill="none"/>
<path d="M3289.0 1316.9V1348.5M3274.4 1323.7L3303.6 1341.7M3274.4 1341.7L3303.6 1323.7" stroke="#0a0a0a" stroke-width="4.3" fill="none"/>
<path d="M3538.0 1175.2V1206.8M3523.4 1182.0L3552.6 1200.0M3523.4 1200.0L3552.6 1182.0" stroke="#0a0a0a" stroke-width="4.3" fill="none"/>
<path d="M3786.4 1093.6V1125.2M3771.8 1100.4L3801.0 1118.4M3771.8 1118.4L3801.0 1100.4" stroke="#0a0a0a" stroke-width="4.3" fill="none"/>
<path d="M3037.8 2394.2V2425.8M3023.2 2401.0L3052.4 2419.0M3023.2 2419.0L3052.4 2401.0" stroke="#0a0a0a" stroke-width="4.3" fill="none"/>
<path d="M3283.3 2308.2V2339.8M3268.7 2315.0L3297.9 2333.0M3268.7 2333.0L3297.9 2315.0" stroke="#0a0a0a" stroke-width="4.3" fill="none"/>
<path d="M3531.4 2199.6V2231.2M3516.8 2206.4L3546.0 2224.4M3516.8 2224.4L3546.0 2206.4" stroke="#0a0a0a" stroke-width="4.3" fill="none"/>
<path d="M3784.0 2049.8V2081.4M3769.4 2056.6L3798.6 2074.6M3769.4 2074.6L3798.6 2056.6" stroke="#0a0a0a" stroke-width="4.3" fill="none"/>
<path d="M416.5 2429.5V2461.1M401.9 2436.3L431.1 2454.3M401.9 2454.3L431.1 2436.3" stroke="#0a0a0a" stroke-width="4.3" fill="none"/>
<path d="M631.4 2183.7V2215.3M616.8 2190.5L646.0 2208.5M616.8 2208.5L646.0 2190.5" stroke="#0a0a0a" stroke-width="4.3" fill="none"/>
<path d="M2124.0 2541.4V2573.0M2109.4 2548.2L2138.6 2566.2M2109.4 2566.2L2138.6 2548.2" stroke="#0a0a0a" stroke-width="4.3" fill="none"/>
<path d="M2338.7 2619.7V2651.3M2324.1 2626.5L2353.3 2644.5M2324.1 2644.5L2353.3 2626.5" stroke="#0a0a0a" stroke-width="4.3" fill="none"/>
<path d="M3284.7 457.5L3279.9 498.5M3297.5 457.5L3292.7 498.5M3275.0 471.8H3303.5M3273.5 484.9H3301.0" stroke="#0a0a0a" stroke-width="3.2" fill="none"/>
<path d="M3537.7 315.5L3532.9 356.5M3550.5 315.5L3545.7 356.5M3528.0 329.8H3556.5M3526.5 342.9H3554.0" stroke="#0a0a0a" stroke-width="3.2" fill="none"/>
<path d="M3786.2 96.7L3781.4 137.7M3799.0 96.7L3794.2 137.7M3776.5 111.0H3805.0M3775.0 124.1H3802.5" stroke="#0a0a0a" stroke-width="3.2" fill="none"/>
<path d="M3283.8 1264.7L3279.0 1305.7M3296.6 1264.7L3291.8 1305.7M3274.1 1279.0H3302.6M3272.6 1292.1H3300.1" stroke="#0a0a0a" stroke-width="3.2" fill="none"/>
<path d="M3534.9 1122.9L3530.1 1163.9M3547.7 1122.9L3542.9 1163.9M3525.2 1137.2H3553.7M3523.7 1150.3H3551.2" stroke="#0a0a0a" stroke-width="3.2" fill="none"/>
<path d="M3781.6 1042.1L3776.8 1083.1M3794.4 1042.1L3789.6 1083.1M3771.9 1056.4H3800.4M3770.4 1069.5H3797.9" stroke="#0a0a0a" stroke-width="3.2" fill="none"/>
<path d="M3278.6 2252.8L3273.8 2293.8M3291.4 2252.8L3286.6 2293.8M3268.9 2267.1H3297.4M3267.4 2280.2H3294.9" stroke="#0a0a0a" stroke-width="3.2" fill="none"/>
<path d="M3525.7 2144.5L3520.9 2185.5M3538.5 2144.5L3533.7 2185.5M3516.0 2158.8H3544.5M3514.5 2171.9H3542.0" stroke="#0a0a0a" stroke-width="3.2" fill="none"/>
<path d="M3780.2 2001.5L3775.4 2042.5M3793.0 2001.5L3788.2 2042.5M3770.5 2015.8H3799.0M3769.0 2028.9H3796.5" stroke="#0a0a0a" stroke-width="3.2" fill="none"/>
<path d="M625.9 2120.8L621.1 2161.8M638.7 2120.8L633.9 2161.8M616.2 2135.1H644.7M614.7 2148.2H642.2" stroke="#0a0a0a" stroke-width="3.2" fill="none"/>
<path d="M2121.2 2479.5L2116.4 2520.5M2134.0 2479.5L2129.2 2520.5M2111.5 2493.8H2140.0M2110.0 2506.9H2137.5" stroke="#0a0a0a" stroke-width="3.2" fill="none"/>
<path d="M2333.9 2556.9L2329.1 2597.9M2346.7 2556.9L2341.9 2597.9M2324.2 2571.2H2352.7M2322.7 2584.3H2350.2" stroke="#0a0a0a" stroke-width="3.2" fill="none"/>
<text x="2577.5" y="105.8" font-size="88" text-anchor="start" font-weight="bold" font-family="Liberation Sans" fill="#0a0a0a" >B</text>
<text x="2807.5" y="103.3" font-size="70.5" text-anchor="end" font-weight="normal" font-family="Liberation Sans" fill="#0a0a0a" >7</text>
<text x="2807.5" y="213" font-size="70.5" text-anchor="end" font-weight="normal" font-family="Liberation Sans" fill="#0a0a0a" >6</text>
<text x="2807.5" y="324" font-size="70.5" text-anchor="end" font-weight="normal" font-family="Liberation Sans" fill="#0a0a0a" >5</text>
<text x="2807.5" y="437.3" font-size="70.5" text-anchor="end" font-weight="normal" font-family="Liberation Sans" fill="#0a0a0a" >4</text>
<text x="2807.5" y="552" font-size="70.5" text-anchor="end" font-weight="normal" font-family="Liberation Sans" fill="#0a0a0a" >3</text>
<text x="2807.5" y="659.3" font-size="70.5" text-anchor="end" font-weight="normal" font-family="Liberation Sans" fill="#0a0a0a" >2</text>
<path transform="translate(2768.30,771) scale(0.03442,-0.03442)" d="M763 0H583V1147Q518 1085 412.5 1023T223 930V1104Q374 1175 487 1276T647 1472H763Z" fill="#0a0a0a"/>
<text x="2807.5" y="886.3" font-size="70.5" text-anchor="end" font-weight="normal" font-family="Liberation Sans" fill="#0a0a0a" >0</text>
<text x="2820.5" y="1052" font-size="70.5" text-anchor="end" font-weight="normal" font-family="Liberation Sans" fill="#0a0a0a" >2.5</text>
<text x="2820.5" y="1202" font-size="70.5" text-anchor="end" font-weight="normal" font-family="Liberation Sans" fill="#0a0a0a" >2.0</text>
<text x="2722.51 2761.70 2781.30" y="1359.5" font-size="70.5" font-family="Liberation Sans" fill="#0a0a0a"> .5</text>
<path transform="translate(2722.51,1359.5) scale(0.03442,-0.03442)" d="M763 0H583V1147Q518 1085 412.5 1023T223 930V1104Q374 1175 487 1276T647 1472H763Z" fill="#0a0a0a"/>
<text x="2722.51 2761.70 2781.30" y="1511.8" font-size="70.5" font-family="Liberation Sans" fill="#0a0a0a"> .0</text>
<path transform="translate(2722.51,1511.8) scale(0.03442,-0.03442)" d="M763 0H583V1147Q518 1085 412.5 1023T223 930V1104Q374 1175 487 1276T647 1472H763Z" fill="#0a0a0a"/>
<text x="2820.5" y="1672" font-size="70.5" text-anchor="end" font-weight="normal" font-family="Liberation Sans" fill="#0a0a0a" >0.5</text>
<text x="2820.5" y="1824.8" font-size="70.5" text-anchor="end" font-weight="normal" font-family="Liberation Sans" fill="#0a0a0a" >0</text>
<text x="2821" y="2057.2" font-size="70.5" text-anchor="end" font-weight="normal" font-family="Liberation Sans" fill="#0a0a0a" >3.0</text>
<text x="2821" y="2181.4" font-size="70.5" text-anchor="end" font-weight="normal" font-family="Liberation Sans" fill="#0a0a0a" >2.5</text>
<text x="2821" y="2305.8" font-size="70.5" text-anchor="end" font-weight="normal" font-family="Liberation Sans" fill="#0a0a0a" >2.0</text>
<text x="2723.01 2762.20 2781.80" y="2429.6" font-size="70.5" font-family="Liberation Sans" fill="#0a0a0a"> .5</text>
<path transform="translate(2723.01,2429.6) scale(0.03442,-0.03442)" d="M763 0H583V1147Q518 1085 412.5 1023T223 930V1104Q374 1175 487 1276T647 1472H763Z" fill="#0a0a0a"/>
<text x="2723.01 2762.20 2781.80" y="2553.5" font-size="70.5" font-family="Liberation Sans" fill="#0a0a0a"> .0</text>
<path transform="translate(2723.01,2553.5) scale(0.03442,-0.03442)" d="M763 0H583V1147Q518 1085 412.5 1023T223 930V1104Q374 1175 487 1276T647 1472H763Z" fill="#0a0a0a"/>
<text x="2821" y="2678" font-size="70.5" text-anchor="end" font-weight="normal" font-family="Liberation Sans" fill="#0a0a0a" >0.5</text>
<text x="2821" y="2801.5" font-size="70.5" text-anchor="end" font-weight="normal" font-family="Liberation Sans" fill="#0a0a0a" >0</text>
<text x="3270" y="197" font-size="70.5" text-anchor="middle" font-weight="normal" font-family="Liberation Sans" fill="#0a0a0a" >Caspase-3</text>
<text x="3269.5" y="1140.5" font-size="70.5" text-anchor="middle" font-weight="normal" font-family="Liberation Sans" fill="#0a0a0a" >Caspase-8</text>
<text x="3268.5" y="2110" font-size="70.5" text-anchor="middle" font-weight="normal" font-family="Liberation Sans" fill="#0a0a0a" >Caspase-9</text>
<text x="2991.5" y="956" font-size="70.5" text-anchor="middle" font-weight="normal" font-family="Liberation Sans" fill="#0a0a0a" >0</text>
<text x="3241.3" y="956" font-size="70.5" text-anchor="middle" font-weight="normal" font-family="Liberation Sans" fill="#0a0a0a" >0.25</text>
<text x="3491.8" y="956" font-size="70.5" text-anchor="middle" font-weight="normal" font-family="Liberation Sans" fill="#0a0a0a" >0.5</text>
<path transform="translate(3718.00,956) scale(0.03442,-0.03442)" d="M763 0H583V1147Q518 1085 412.5 1023T223 930V1104Q374 1175 487 1276T647 1472H763Z" fill="#0a0a0a"/>
<text x="2991.4" y="1909.5" font-size="70.5" text-anchor="middle" font-weight="normal" font-family="Liberation Sans" fill="#0a0a0a" >0</text>
<text x="3241.2" y="1909.5" font-size="70.5" text-anchor="middle" font-weight="normal" font-family="Liberation Sans" fill="#0a0a0a" >0.25</text>
<text x="3492" y="1909.5" font-size="70.5" text-anchor="middle" font-weight="normal" font-family="Liberation Sans" fill="#0a0a0a" >0.5</text>
<path transform="translate(3717.40,1909.5) scale(0.03442,-0.03442)" d="M763 0H583V1147Q518 1085 412.5 1023T223 930V1104Q374 1175 487 1276T647 1472H763Z" fill="#0a0a0a"/>
<text x="3001.2" y="2882.2" font-size="70.5" text-anchor="middle" font-weight="normal" font-family="Liberation Sans" fill="#0a0a0a" >0</text>
<text x="3250.2" y="2882.2" font-size="70.5" text-anchor="middle" font-weight="normal" font-family="Liberation Sans" fill="#0a0a0a" >0.25</text>
<text x="3500.2" y="2882.2" font-size="70.5" text-anchor="middle" font-weight="normal" font-family="Liberation Sans" fill="#0a0a0a" >0.5</text>
<path transform="translate(3725.10,2882.2) scale(0.03442,-0.03442)" d="M763 0H583V1147Q518 1085 412.5 1023T223 930V1104Q374 1175 487 1276T647 1472H763Z" fill="#0a0a0a"/>
<text x="3366" y="2996.3" font-size="70.8" text-anchor="middle" font-weight="normal" font-family="Liberation Sans" fill="#0a0a0a" >Ethanol (%)</text>
<text transform="translate(2642.5,1543) rotate(-90)" font-size="70.5" text-anchor="middle" font-family="Liberation Sans" fill="#0a0a0a">Caspase activity (Fod over control)</text>
<rect x="2920.0" y="248.8" width="86.19999999999982" height="61.5" fill="#a4a1de" stroke="#050505" stroke-width="9"/>
<rect x="2920.0" y="339.3" width="86.19999999999982" height="60.19999999999999" fill="#c00000" stroke="#050505" stroke-width="9"/>
<text x="3031" y="297.2" font-size="53.5" text-anchor="start" font-weight="normal" font-family="Liberation Sans" fill="#0a0a0a" >37<tspan font-size="36.4" dy="-19.5">o</tspan><tspan dy="19.5">C</tspan></text>
<text x="3031" y="386.5" font-size="53.5" text-anchor="start" font-weight="normal" font-family="Liberation Sans" fill="#0a0a0a" >43<tspan font-size="36.4" dy="-19.5">o</tspan><tspan dy="19.5">C</tspan></text>
<rect x="2127.9" y="2050.7" width="83.79999999999973" height="61.399999999999864" fill="#a4a1de" stroke="#050505" stroke-width="9"/>
<rect x="2127.9" y="2140.9" width="83.79999999999973" height="62.59999999999991" fill="#c00000" stroke="#050505" stroke-width="9"/>
<text x="2234" y="2103.3" font-size="53.5" text-anchor="start" font-weight="normal" font-family="Liberation Sans" fill="#0a0a0a" >37<tspan font-size="36.4" dy="-19.5">o</tspan><tspan dy="19.5">C</tspan></text>
<text x="2234" y="2192" font-size="53.5" text-anchor="start" font-weight="normal" font-family="Liberation Sans" fill="#0a0a0a" >43<tspan font-size="36.4" dy="-19.5">o</tspan><tspan dy="19.5">C</tspan></text>
<text x="78.5" y="1889.8" font-size="88" text-anchor="start" font-weight="bold" font-family="Liberation Sans" fill="#0a0a0a" >C</text>
<text x="248.5" y="2015.7" font-size="70.5" text-anchor="end" font-weight="normal" font-family="Liberation Sans" fill="#0a0a0a" >70</text>
<text x="248.5" y="2127.6" font-size="70.5" text-anchor="end" font-weight="normal" font-family="Liberation Sans" fill="#0a0a0a" >60</text>
<text x="248.5" y="2240.2" font-size="70.5" text-anchor="end" font-weight="normal" font-family="Liberation Sans" fill="#0a0a0a" >50</text>
<text x="248.5" y="2352.6" font-size="70.5" text-anchor="end" font-weight="normal" font-family="Liberation Sans" fill="#0a0a0a" >40</text>
<text x="248.5" y="2464.6" font-size="70.5" text-anchor="end" font-weight="normal" font-family="Liberation Sans" fill="#0a0a0a" >30</text>
<text x="248.5" y="2577.2" font-size="70.5" text-anchor="end" font-weight="normal" font-family="Liberation Sans" fill="#0a0a0a" >20</text>
<text x="170.10 209.30" y="2690" font-size="70.5" font-family="Liberation Sans" fill="#0a0a0a"> 0</text>
<path transform="translate(170.10,2690) scale(0.03442,-0.03442)" d="M763 0H583V1147Q518 1085 412.5 1023T223 930V1104Q374 1175 487 1276T647 1472H763Z" fill="#0a0a0a"/>
<text x="241.2" y="2801.5" font-size="70.5" text-anchor="end" font-weight="normal" font-family="Liberation Sans" fill="#0a0a0a" >0</text>
<text transform="translate(100.4,2378.5) rotate(-90)" font-size="70.5" text-anchor="middle" font-family="Liberation Sans" fill="#0a0a0a">Apoptotic cells (%)</text>
<text x="498.7" y="1945.2" font-size="70.8" text-anchor="middle" font-weight="normal" font-family="Liberation Sans" fill="#0a0a0a" >DMSO</text>
<text x="915.7" y="1945.2" font-size="70.8" text-anchor="middle" font-weight="normal" font-family="Liberation Sans" fill="#0a0a0a" >z-VAD-fmk</text>
<text x="1343.3" y="1945.2" font-size="70.8" text-anchor="middle" font-weight="normal" font-family="Liberation Sans" fill="#0a0a0a" >z-DEVD-fmk</text>
<text x="1772.7" y="1945.2" font-size="70.8" text-anchor="middle" font-weight="normal" font-family="Liberation Sans" fill="#0a0a0a" >z-IETD-fmk</text>
<text x="2203.4" y="1945.2" font-size="70.8" text-anchor="middle" font-weight="normal" font-family="Liberation Sans" fill="#0a0a0a" >z-LEHD-fmk</text>
<text x="371.3" y="2849.7" font-size="70.5" text-anchor="middle" font-weight="normal" font-family="Liberation Sans" fill="#0a0a0a" >0</text>
<text x="587.3" y="2849.7" font-size="70.5" text-anchor="middle" font-weight="normal" font-family="Liberation Sans" fill="#0a0a0a" >0.5</text>
<text x="799.1" y="2849.7" font-size="70.5" text-anchor="middle" font-weight="normal" font-family="Liberation Sans" fill="#0a0a0a" >0</text>
<text x="1011.4" y="2849.7" font-size="70.5" text-anchor="middle" font-weight="normal" font-family="Liberation Sans" fill="#0a0a0a" >0.5</text>
<text x="1233.2" y="2849.7" font-size="70.5" text-anchor="middle" font-weight="normal" font-family="Liberation Sans" fill="#0a0a0a" >0</text>
<text x="1441" y="2849.7" font-size="70.5" text-anchor="middle" font-weight="normal" font-family="Liberation Sans" fill="#0a0a0a" >0.5</text>
<text x="1656" y="2849.7" font-size="70.5" text-anchor="middle" font-weight="normal" font-family="Liberation Sans" fill="#0a0a0a" >0</text>
<text x="1865.8" y="2849.7" font-size="70.5" text-anchor="middle" font-weight="normal" font-family="Liberation Sans" fill="#0a0a0a" >0.5</text>
<text x="2087.5" y="2849.7" font-size="70.5" text-anchor="middle" font-weight="normal" font-family="Liberation Sans" fill="#0a0a0a" >0</text>
<text x="2291.4" y="2849.7" font-size="70.5" text-anchor="middle" font-weight="normal" font-family="Liberation Sans" fill="#0a0a0a" >0.5</text>
<text x="1350.5" y="2980" font-size="70.8" text-anchor="middle" font-weight="normal" font-family="Liberation Sans" fill="#0a0a0a" >Ethanol (%)</text>
</svg></body></html>
